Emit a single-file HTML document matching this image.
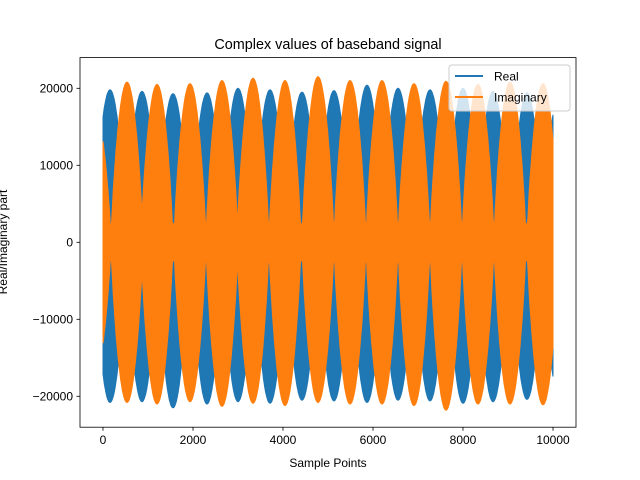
<!DOCTYPE html>
<html><head><meta charset="utf-8"><style>
body{margin:0;background:#fff}
svg{display:block;font-family:"Liberation Sans","DejaVu Sans",sans-serif}
</style></head><body>
<svg id="chart" width="640" height="480" viewBox="0 0 640 480" xmlns="http://www.w3.org/2000/svg">
<rect width="640" height="480" fill="#fff"/>
<text x="328" y="49" font-size="14.4" text-anchor="middle">Complex values of baseband signal</text>
<g id="series"></g>
<g id="axes"></g>
<text x="328" y="467" font-size="12" text-anchor="middle">Sample Points</text>
<text transform="translate(7,242) rotate(-90)" font-size="12" text-anchor="middle">Real/Imaginary part</text>
<g>
<rect x="449" y="65" width="121" height="46" rx="3" fill="#fff" fill-opacity="0.8" stroke="#ccc"/>
<line x1="455" y1="76" x2="483" y2="76" stroke="#1f77b4" stroke-width="2"/>
<text x="494" y="80.5" font-size="12">Real</text>
<line x1="455" y1="97" x2="483" y2="97" stroke="#ff7f0e" stroke-width="2"/>
<text x="494" y="101.5" font-size="12">Imaginary</text>
</g>
</svg>
<script>
const xTicks=[0,2000,4000,6000,8000,10000];
const yTicks=[-20000,-10000,0,10000,20000];
const nSamples=10000;
const burstPeriod=711;
const realPeaks=[156,867,1556,2311,3000,3711,4422,5133,5867,6556,7267,8000,8667,9422,10133];
const realTop=[19800,19600,19300,19400,20000,19800,19500,19700,20400,20000,19800,20000,19600,19400,19000];
const realBottom=[-20800,-20700,-21500,-21000,-20700,-20900,-20500,-20600,-20800,-20500,-20600,-20900,-20700,-20400,-20000];
const imagPeaks=[-178,533,1200,1933,2644,3333,4044,4778,5489,6200,6911,7622,8333,9044,9778];
const imagTop=[17000,20800,20500,20600,21000,21300,21000,21500,21000,21000,20600,20900,20500,20800,20600];
const imagBottom=[-17000,-20800,-21000,-20700,-21300,-20900,-21200,-20800,-21000,-21000,-21200,-21800,-21000,-21000,-21100];
const imagFloor=2400;

const X=v=>103+(v/10000)*450;
const Y=v=>242.3-(v/20000)*154;
const NS='http://www.w3.org/2000/svg';
function env(t,peaks,amps,floor){
  let k=0,best=1e9;
  peaks.forEach((p,i)=>{const d=Math.abs(t-p);if(d<best){best=d;k=i;}});
  const c=Math.abs(Math.cos(Math.PI*(t-peaks[k])/burstPeriod));
  const a=Math.abs(amps[k])*Math.pow(c,0.75);
  return Math.max(a,floor);
}
function series(peaks,top,bot,floor,color,name){
  const up=[],lo=[];
  for(let t=0;t<=nSamples;t+=10){
    up.push(X(t).toFixed(1)+','+Y(env(t,peaks,top,floor)).toFixed(1));
    lo.push(X(t).toFixed(1)+','+Y(-env(t,peaks,bot,floor)).toFixed(1));
  }
  const p=document.createElementNS(NS,'polygon');
  p.setAttribute('points',up.concat(lo.reverse()).join(' '));
  p.setAttribute('fill',color);
  p.setAttribute('stroke',color);
  p.setAttribute('stroke-width','1');
  
  
  document.getElementById('series').appendChild(p);
}
series(realPeaks,realTop,realBottom,300,'#1f77b4','real-series');
series(imagPeaks,imagTop,imagBottom,imagFloor,'#ff7f0e','imaginary-series');

const ax=document.getElementById('axes');
function mk(tag,attrs){const e=document.createElementNS(NS,tag);for(const k in attrs)e.setAttribute(k,attrs[k]);ax.appendChild(e);return e;}
const frame=mk('rect',{x:80,y:57.6,width:496,height:369.6,fill:'none',stroke:'#000','stroke-width':0.8});


xTicks.forEach(v=>{
  mk('line',{x1:X(v),x2:X(v),y1:427.2,y2:430.7,stroke:'#000','stroke-width':0.8});
  const t=mk('text',{x:X(v),y:444,'font-size':12,'text-anchor':'middle'});
  t.textContent=v;
  
  
});
yTicks.forEach(v=>{
  mk('line',{x1:76.5,x2:80,y1:Y(v),y2:Y(v),stroke:'#000','stroke-width':0.8});
  const t=mk('text',{x:73,y:Y(v)+4.3,'font-size':12,'text-anchor':'end'});
  t.textContent=v<0?'\u2212'+Math.abs(v):v;
  
  
});
</script>
</body></html>
